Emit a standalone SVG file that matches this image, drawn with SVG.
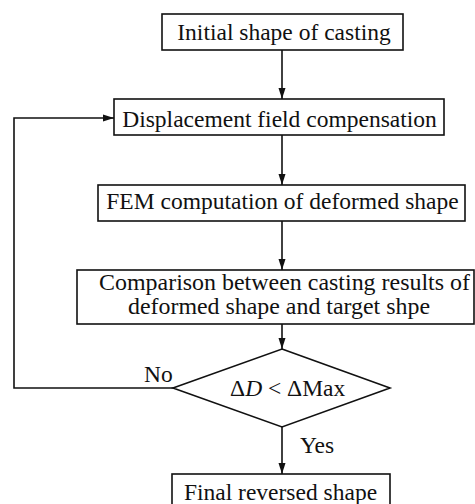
<svg xmlns="http://www.w3.org/2000/svg" width="475" height="504" viewBox="0 0 475 504">
  <defs>
    <style>
      .box { fill: #fff; stroke: #111; stroke-width: 1.6; }
      .line { fill: none; stroke: #111; stroke-width: 1.6; }
      .t { font-family: "Liberation Serif", "Times New Roman", serif; font-size: 23.5px; fill: #111; }
      .c { text-anchor: middle; }
    </style>
    <marker id="arrow" markerUnits="userSpaceOnUse" markerWidth="12" markerHeight="8" refX="11" refY="4" orient="auto">
      <path d="M0,0.5 L11,4 L0,7.5 Z" fill="#111"/>
    </marker>
  </defs>
  <rect width="475" height="504" fill="#fff"/>

  <!-- connectors -->
  <g id="connectors">
    <line class="line" x1="282" y1="50" x2="282" y2="99" marker-end="url(#arrow)"/>
    <line class="line" x1="282" y1="135" x2="282" y2="185" marker-end="url(#arrow)"/>
    <line class="line" x1="282" y1="221" x2="282" y2="270" marker-end="url(#arrow)"/>
    <line class="line" x1="282" y1="324" x2="282" y2="349" marker-end="url(#arrow)"/>
    <line class="line" x1="282" y1="427" x2="282" y2="474" marker-end="url(#arrow)"/>
    <polyline class="line" points="173,388 14,388 14,118 114,118" marker-end="url(#arrow)"/>
    <text class="t" x="144" y="382">No</text>
    <text class="t" x="300" y="453" font-size="22">Yes</text>
  </g>

  <!-- nodes -->
  <g id="initial">
    <rect class="box" x="162" y="14" width="241" height="36"/>
    <text class="t c" x="284" y="40">Initial shape of casting</text>
  </g>
  <g id="compensation">
    <rect class="box" x="114" y="99" width="330" height="36"/>
    <text class="t c" x="279.5" y="127">Displacement field compensation</text>
  </g>
  <g id="fem">
    <rect class="box" x="98" y="185" width="367" height="36"/>
    <text class="t c" x="282.5" y="209">FEM computation of deformed shape</text>
  </g>
  <g id="comparison">
    <rect class="box" x="77" y="270" width="397" height="54"/>
    <text class="t c" x="284.5" y="290" font-size="20.5" textLength="371" lengthAdjust="spacingAndGlyphs">Comparison between casting results of</text>
    <text class="t c" x="279" y="314" font-size="20.5" textLength="302" lengthAdjust="spacingAndGlyphs">deformed shape and target shpe</text>
  </g>
  <g id="decision">
    <polygon class="box" points="282,349 390,388 282,427 173,388"/>
    <text class="t" x="230" y="396" font-size="21">Δ<tspan font-style="italic">D</tspan> &lt; ΔMax</text>
  </g>
  <g id="final">
    <rect class="box" x="172" y="474" width="218" height="40"/>
    <text class="t c" x="280.5" y="500">Final reversed shape</text>
  </g>
</svg>
